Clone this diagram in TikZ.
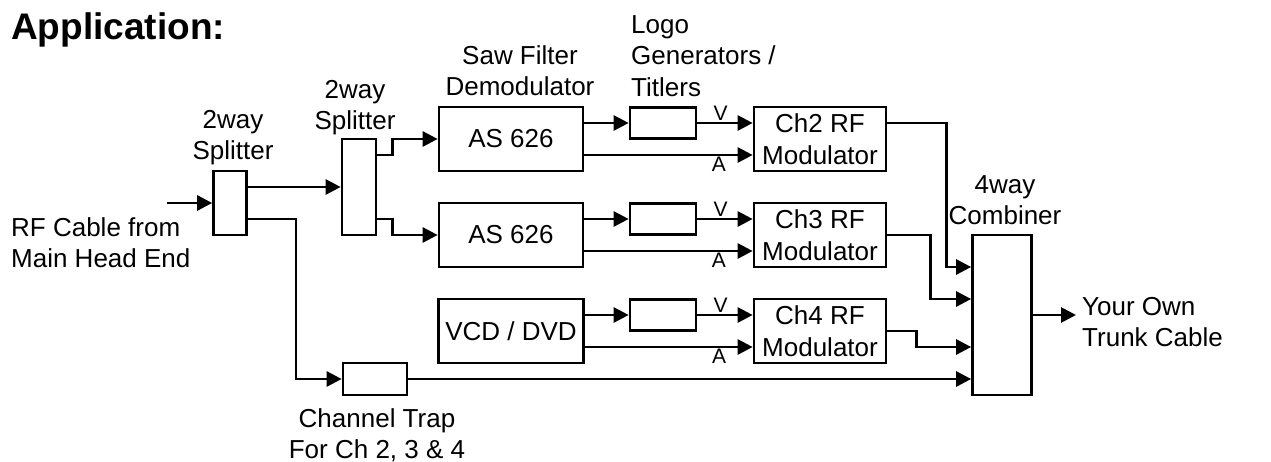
\documentclass[tikz,border=0pt]{standalone}
\usepackage{fontspec}
\setmainfont{Liberation Sans}
\usetikzlibrary{arrows.meta,positioning,calc}

\begin{document}
\begin{tikzpicture}[x=1pt,y=-1pt,
  blk/.style={draw,line width=2.7pt,inner sep=0pt,align=center,
              font=\fontsize{26}{31.5}\selectfont},
  lbl/.style={inner sep=1pt,align=center,font=\fontsize{26}{31.5}\selectfont},
  va/.style={inner sep=1pt,font=\fontsize{21}{21}\selectfont},
  sig/.style={line width=2.7pt,-{Triangle[length=15pt,width=15pt]}},
]
\useasboundingbox (0,0) rectangle (1271,462);
% title
\node[anchor=north west,inner sep=0pt,font=\fontsize{37}{40}\selectfont\bfseries]
  (title) at (11,12) {Application:};
% blocks
\node[blk,minimum width=33pt,minimum height=64pt] (spl1) at (230,203) {};
\node[blk,minimum width=34pt,minimum height=96pt] (spl2) at (359,187) {};
\node[blk,minimum width=144pt,minimum height=64pt] (demodA) at (511,139) {AS 626};
\node[blk,minimum width=144pt,minimum height=64pt] (demodB) at (511,235) {AS 626};
\node[blk,minimum width=145pt,minimum height=64pt] (vcd) at (511,331) {VCD / DVD};
\node[blk,minimum width=66pt,minimum height=31pt] (logoA) at (663,123) {};
\node[blk,minimum width=66pt,minimum height=31pt] (logoB) at (663,219) {};
\node[blk,minimum width=66pt,minimum height=31pt] (logoC) at (663,315) {};
\node[blk,minimum width=132pt,minimum height=64pt] (modA) at (820,139) {Ch2 RF\\Modulator};
\node[blk,minimum width=132pt,minimum height=64pt] (modB) at (820,235) {Ch3 RF\\Modulator};
\node[blk,minimum width=132pt,minimum height=64pt] (modC) at (820,331) {Ch4 RF\\Modulator};
\node[blk,minimum width=64pt,minimum height=32pt] (trap) at (375,379) {};
\node[blk,minimum width=59pt,minimum height=160pt] (comb) at (1002,315) {};
\coordinate (rfin) at (167,203);
\coordinate (trunk) at (1076,315);
% labels
\node[lbl,anchor=north] (spl1lbl) at (233,109) {2way\\Splitter};
\node[lbl,anchor=north] (spl2lbl) at (355,79) {2way\\Splitter};
\node[lbl,anchor=north] (demodlbl) at (520,44) {Saw Filter\\Demodulator};
\node[lbl,align=left,anchor=north west] (logolbl) at (630,14) {Logo\\Generators /\\Titlers};
\node[lbl,anchor=north] (comblbl) at (1005,174) {4way\\Combiner};
\node[lbl,anchor=north] (traplbl) at (377,407) {Channel Trap\\For Ch 2, 3 \& 4};
\node[lbl,align=left,anchor=north west] (rflbl) at (10,216) {RF Cable from\\Main Head End};
\node[lbl,align=left,anchor=north west] (trunklbl) at (1081,296) {Your Own\\Trunk Cable};
% splitters
\draw[sig] (rfin) -- (spl1.west);
\draw[sig] ([yshift=16pt]spl1.east) -- (spl2.west);
\draw[sig] ([yshift=-16pt]spl1.east) -- ++(48,0) |- (trap.west);
\draw[sig] ([yshift=32pt]spl2.east) -- ++(15,0) |- (demodA.west);
\draw[sig] ([yshift=-32pt]spl2.east) -- ++(15,0) |- (demodB.west);
% video and audio paths
\foreach \src/\logo/\mod in {demodA/logoA/modA,demodB/logoB/modB,vcd/logoC/modC}{
  \draw[sig] ([yshift=16pt]\src.east) -- (\logo.west);
  \draw[sig] (\logo.east) -- node[va,above,pos=0.42] {V} ([yshift=16pt]\mod.west);
  \draw[sig] ([yshift=-16pt]\src.east) -- node[va,below,pos=0.8] {A} ([yshift=-16pt]\mod.west);
}
% combiner
\draw[sig] ([yshift=16pt]modA.east) -- ++(59,0) |- ([yshift=48pt]comb.west);
\draw[sig] (modB.east) -- ++(43,0) |- ([yshift=16pt]comb.west);
\draw[sig] (modC.east) -- ++(29,0) |- ([yshift=-32pt]comb.west);
\draw[sig] (trap.east) -- (trap.east -| comb.west);
\draw[sig] (comb.east) -- (trunk);
\end{tikzpicture}
\end{document}
